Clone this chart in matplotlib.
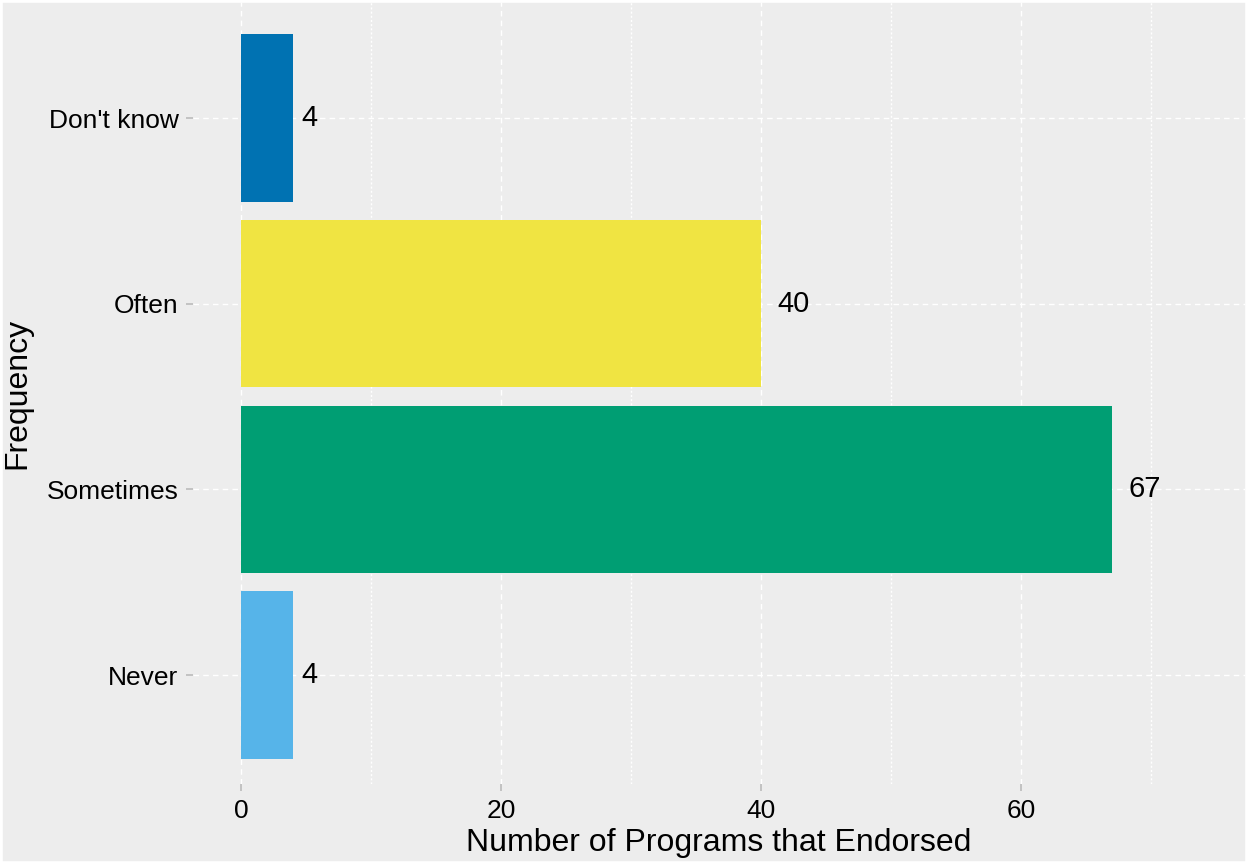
import matplotlib
matplotlib.use("Agg")
import matplotlib.pyplot as plt
from matplotlib.ticker import MultipleLocator
from matplotlib.patches import Rectangle
from matplotlib.transforms import offset_copy

categories = ["Never", "Sometimes", "Often", "Don't know"]
counts = [4, 67, 40, 4]
colors = ["#56B4E9", "#009E73", "#F0E442", "#0072B2"]

bg = "#EDEDED"
plt.rcParams['font.family'] = ['Liberation Sans', 'DejaVu Sans']

fig = plt.figure(figsize=(12.48, 8.64), dpi=100, facecolor=bg)
ax = fig.add_axes([193/1248, 80/864, (1245-193)/1248, (862-80)/864])
ax.set_facecolor(bg)

ypos = list(range(len(categories)))
ax.barh(ypos, counts, height=0.9, color=colors, zorder=3)

ax.set_xlim(-3.69, 77.23)
ax.set_ylim(-0.587, 3.625)
ax.set_yticks(ypos)
ax.set_yticklabels(categories)
ax.xaxis.set_major_locator(MultipleLocator(20))
ax.xaxis.set_minor_locator(MultipleLocator(10))
ax.grid(which='major', axis='both', color='white', linestyle=(0, (4, 3)), linewidth=1.0, zorder=0)
ax.grid(which='minor', axis='x', color='white', linestyle=(0, (1.5, 1.5)), linewidth=1.0, zorder=0)
ax.tick_params(axis='both', which='major', labelsize=19, color='#BBBBBB', length=5, width=1.2, pad=5.5)
ax.tick_params(axis='both', which='minor', length=0)
for s in ax.spines.values():
    s.set_visible(False)

ax.set_xlabel("Number of Programs that Endorsed", fontsize=23, labelpad=4)
ax.set_ylabel("Frequency", fontsize=23, labelpad=10)

# value labels with hjust = -0.5 (offset by half the text width)
renderer = fig.canvas.get_renderer()
for y, v in zip(ypos, counts):
    t = ax.text(v, y, str(v), va='center', ha='left', fontsize=21, color='black', zorder=4)
    w_px = t.get_window_extent(renderer=renderer).width
    t.set_transform(offset_copy(ax.transData, fig=fig, x=0.5 * w_px, y=0, units='dots'))

fig.patches.append(Rectangle((0, 0), 1, 1, transform=fig.transFigure, fill=False,
                             edgecolor='white', linewidth=4, zorder=10))

fig.savefig("out.png", dpi=100, facecolor=bg)
